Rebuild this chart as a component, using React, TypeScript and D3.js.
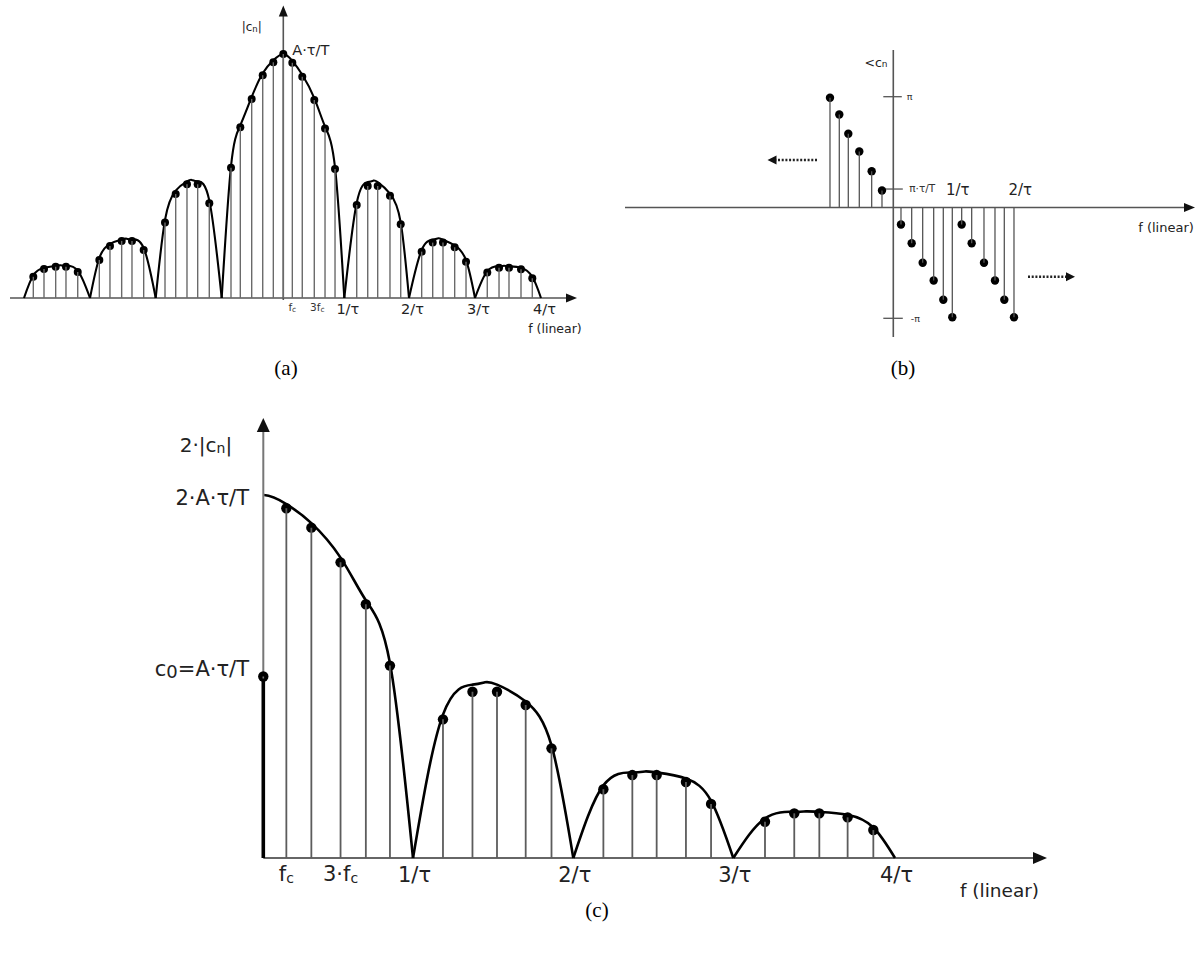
import React from 'react';
import * as d3 from 'd3';

// ---------- (a) two-sided amplitude spectrum |c_n| ----------
// frequency in units of 1/τ, amplitude in units of A·τ/T
const ampFreq = [
  -3.859, -3.697, -3.52, -3.364, -3.186,
  -2.858, -2.696, -2.518, -2.361, -2.183,
  -1.859, -1.697, -1.526, -1.364, -1.188,
  -0.849, -0.698, -0.513, -0.334, -0.162, 0, 0.148, 0.311, 0.508, 0.684, 0.848,
  1.192, 1.362, 1.516, 1.706, 1.872,
  2.192, 2.359, 2.515, 2.692, 2.864,
  3.186, 3.364, 3.515, 3.697, 3.868,
];
const ampValue = [
  0.087, 0.119, 0.128, 0.128, 0.107,
  0.156, 0.213, 0.234, 0.234, 0.197,
  0.309, 0.426, 0.466, 0.466, 0.388,
  0.534, 0.7, 0.816, 0.913, 0.966, 1, 0.964, 0.907, 0.811, 0.695, 0.529,
  0.381, 0.459, 0.459, 0.419, 0.302,
  0.19, 0.227, 0.227, 0.208, 0.149,
  0.104, 0.124, 0.124, 0.118, 0.081,
];
// |sinc| envelope samples, lobe by lobe (zeros at multiples of 1/τ)
const ampEnvFreq = [
  -4, -3.859, -3.697, -3.52, -3.444, -3.364, -3.186,
  -3, -2.858, -2.696, -2.518, -2.441, -2.361, -2.183,
  -2, -1.859, -1.697, -1.526, -1.455, -1.364, -1.188,
  -1, -0.849, -0.698, -0.513, -0.334, -0.162, 0, 0.148, 0.311, 0.508, 0.684, 0.848,
  1, 1.192, 1.362, 1.448, 1.516, 1.706, 1.872,
  2, 2.192, 2.359, 2.444, 2.515, 2.692, 2.864,
  3, 3.186, 3.364, 3.439, 3.515, 3.697, 3.868,
  4,
];
const ampEnvValue = [
  0, 0.093, 0.124, 0.132, 0.134, 0.132, 0.112,
  0, 0.164, 0.222, 0.24, 0.243, 0.24, 0.205,
  0, 0.32, 0.44, 0.478, 0.484, 0.478, 0.4,
  0, 0.54, 0.708, 0.824, 0.921, 0.974, 1, 0.972, 0.915, 0.819, 0.703, 0.535,
  0, 0.39, 0.475, 0.481, 0.475, 0.428, 0.31,
  0, 0.197, 0.239, 0.245, 0.239, 0.216, 0.155,
  0, 0.11, 0.13, 0.132, 0.13, 0.124, 0.087,
  0,
];
const ampTicks = [1, 2, 3, 4];
const ampTickLabels = ['1/τ', '2/τ', '3/τ', '4/τ'];

// ---------- (b) phase spectrum <c_n ----------
// frequency in units of 1/τ, phase in units of π
const phaseFreq = [
  -1.013, -0.864, -0.72, -0.544, -0.346, -0.181,
  0.123, 0.294, 0.47, 0.646, 0.8, 0.944,
  1.094, 1.254, 1.451, 1.627, 1.776, 1.931,
];
const phaseValue = [
  0.99, 0.839, 0.665, 0.505, 0.328, 0.153,
  -0.153, -0.322, -0.499, -0.659, -0.833, -0.99,
  -0.153, -0.322, -0.499, -0.659, -0.833, -0.99,
];
const dutyCycle = 1 / 6; // τ/T
const phaseTicks = [1, 2];
const phaseTickLabels = ['1/τ', '2/τ'];

// ---------- (c) one-sided amplitude spectrum 2·|c_n| ----------
// frequency in units of 1/τ, amplitude in units of A·τ/T
const oneFreq = [
  0.154, 0.321, 0.516, 0.685, 0.846,
  1.187, 1.371, 1.524, 1.703, 1.864,
  2.188, 2.369, 2.521, 2.704, 2.861,
  3.196, 3.377, 3.532, 3.707, 3.866,
];
const oneValue = [
  1.927, 1.82, 1.629, 1.398, 1.06,
  0.764, 0.916, 0.916, 0.843, 0.604,
  0.379, 0.457, 0.457, 0.419, 0.298,
  0.2, 0.246, 0.246, 0.224, 0.154,
];
const oneDc = 1; // c0 = A·τ/T
const oneEnvFreq = [
  0, 0.154, 0.321, 0.516, 0.685, 0.846,
  1, 1.187, 1.371, 1.449, 1.524, 1.703, 1.864,
  2, 2.188, 2.369, 2.448, 2.521, 2.704, 2.861,
  3, 3.196, 3.377, 3.45, 3.532, 3.707, 3.866,
  4,
];
const oneEnvValue = [
  2, 1.95, 1.845, 1.655, 1.42, 1.075,
  0, 0.79, 0.955, 0.968, 0.955, 0.862, 0.62,
  0, 0.4, 0.471, 0.477, 0.471, 0.438, 0.315,
  0, 0.218, 0.254, 0.257, 0.254, 0.238, 0.168,
  0,
];
const oneTicks = [1, 2, 3, 4];
const oneTickLabels = ['1/τ', '2/τ', '3/τ', '4/τ'];

const SANS = "'DejaVu Sans', sans-serif";
const SERIF = "'Liberation Serif', 'DejaVu Serif', serif";

type Pt = [number, number];

// Split an envelope into lobes: each lobe ends at a zero of the envelope.
function splitLobes(freq: number[], value: number[]): Pt[][] {
  const lobes: Pt[][] = [];
  let cur: Pt[] = [];
  freq.forEach((f, i) => {
    const p: Pt = [f, value[i]];
    cur.push(p);
    if (value[i] === 0 && cur.length > 1) {
      lobes.push(cur);
      cur = [p];
    }
  });
  return lobes;
}

function arrowHead(tipX: number, tipY: number, dir: 'right' | 'left' | 'up', len: number, half: number) {
  if (dir === 'right') return `M${tipX},${tipY}L${tipX - len},${tipY - half}L${tipX - len},${tipY + half}Z`;
  if (dir === 'left') return `M${tipX},${tipY}L${tipX + len},${tipY - half}L${tipX + len},${tipY + half}Z`;
  return `M${tipX},${tipY}L${tipX - half},${tipY + len}L${tipX + half},${tipY + len}Z`;
}

function PanelA() {
  const x = d3.scaleLinear().domain([-4, -3, -2, -1, 0, 1, 2, 3, 4])
    .range([24, 90, 155.7, 221.7, 283.3, 344.3, 409, 475, 541]);
  const y = d3.scaleLinear().domain([0, 1]).range([298, 54]);
  const line = d3.line<Pt>().x((d) => x(d[0])).y((d) => y(d[1])).curve(d3.curveNatural);
  const lobes = splitLobes(ampEnvFreq, ampEnvValue).map((l) => line(l) || '');
  const pos = ampFreq.filter((f) => f > 0).sort((a, b) => a - b);
  const y0 = y(0);
  return (
    <g>
      <line x1={10} x2={570} y1={y0} y2={y0} stroke="#555" strokeWidth={1.6} />
      <path d={arrowHead(577, y0, 'right', 11, 4.5)} fill="#111" />
      <line x1={x(0)} x2={x(0)} y1={y0 + 2} y2={14} stroke="#555" strokeWidth={1.6} />
      <path d={arrowHead(x(0), 5.5, 'up', 11, 4.5)} fill="#111" />
      {lobes.map((d, i) => <path key={i} d={d} fill="none" stroke="#000" strokeWidth={2.1} />)}
      {ampFreq.map((f, i) => <circle key={i} cx={x(f)} cy={y(ampValue[i])} r={4} fill="#000" />)}
      {ampFreq.map((f, i) => (
        <line key={i} x1={x(f)} x2={x(f)} y1={y0} y2={y(ampValue[i])} stroke="#6a6a6a" strokeWidth={1.4} />
      ))}
      <text x={251.7} y={27} fontFamily={SANS} fontSize={12} textAnchor="middle" dominantBaseline="central" fill="#222">
        |c<tspan fontSize={8.5} dy={2}>n</tspan><tspan dy={-2}>|</tspan>
      </text>
      <text x={x(0) + 9} y={49.5} fontFamily={SANS} fontSize={14.5} dominantBaseline="central" fill="#222">A·τ/T</text>
      {ampTicks.map((t, i) => (
        <text key={t} x={x(t) + 3.5} y={308.5} fontFamily={SANS} fontSize={14.5} textAnchor="middle" dominantBaseline="central" fill="#222">
          {ampTickLabels[i]}
        </text>
      ))}
      <text x={x(pos[0])} y={307} fontFamily={SANS} fontSize={10.5} textAnchor="middle" dominantBaseline="central" fill="#333">
        f<tspan fontSize={7.5} dy={2}>c</tspan>
      </text>
      <text x={x(pos[2]) + 3} y={307} fontFamily={SANS} fontSize={10.5} textAnchor="middle" dominantBaseline="central" fill="#333">
        3f<tspan fontSize={7.5} dy={2}>c</tspan>
      </text>
      <text x={555} y={328.5} fontFamily={SANS} fontSize={12.5} textAnchor="middle" dominantBaseline="central" fill="#222">f (linear)</text>
    </g>
  );
}

function PanelB() {
  const x = d3.scaleLinear().domain([0, 1]).range([893.3, 955.8]);
  const y = d3.scaleLinear().domain([-1, 1]).range([318.3, 96.7]);
  const y0 = y(0);
  const ax = x(0);
  return (
    <g>
      <line x1={625} x2={1184} y1={y0} y2={y0} stroke="#555" strokeWidth={1.6} />
      <path d={arrowHead(1195, y0, 'right', 11, 4.5)} fill="#111" />
      <line x1={ax} x2={ax} y1={337} y2={50} stroke="#555" strokeWidth={1.6} />
      <line x1={ax - 10} x2={ax + 8.5} y1={y(1)} y2={y(1)} stroke="#555" strokeWidth={1.3} />
      <line x1={ax - 10} x2={ax + 9.5} y1={y(-1)} y2={y(-1)} stroke="#555" strokeWidth={1.3} />
      <line x1={ax - 8} x2={ax + 9.5} y1={y(dutyCycle)} y2={y(dutyCycle)} stroke="#555" strokeWidth={1.3} />
      {phaseFreq.map((f, i) => <circle key={i} cx={x(f)} cy={y(phaseValue[i])} r={4.2} fill="#000" />)}
      {phaseFreq.map((f, i) => (
        <line key={i} x1={x(f)} x2={x(f)} y1={y0} y2={y(phaseValue[i])} stroke="#555" strokeWidth={1.3} />
      ))}
      <text x={876} y={62} fontFamily={SANS} fontSize={12.5} textAnchor="middle" dominantBaseline="central" fill="#222">
        &lt;c<tspan fontSize={9} dy={2}>n</tspan>
      </text>
      <text x={ax + 13.5} y={y(1)} fontFamily={SANS} fontSize={9.5} dominantBaseline="central" fill="#333">π</text>
      <text x={ax + 17.5} y={y(-1)} fontFamily={SANS} fontSize={9.5} dominantBaseline="central" fill="#333">-π</text>
      <text x={ax + 16} y={y(dutyCycle) - 1} fontFamily={SANS} fontSize={10.5} dominantBaseline="central" fill="#333">π·τ/T</text>
      {phaseTicks.map((t, i) => (
        <text key={t} x={x(t) + 2} y={190} fontFamily={SANS} fontSize={15} textAnchor="middle" dominantBaseline="central" fill="#222">
          {phaseTickLabels[i]}
        </text>
      ))}
      <text x={1166} y={227.5} fontFamily={SANS} fontSize={13} textAnchor="middle" dominantBaseline="central" fill="#222">f (linear)</text>
      <line x1={817} x2={776} y1={160} y2={160} stroke="#222" strokeWidth={2.4} strokeDasharray="2 1.7" />
      <path d={arrowHead(767.5, 160, 'left', 9, 4.5)} fill="#111" />
      <line x1={1028} x2={1066} y1={276.7} y2={276.7} stroke="#222" strokeWidth={2.4} strokeDasharray="2 1.7" />
      <path d={arrowHead(1075, 276.7, 'right', 9, 4.5)} fill="#111" />
    </g>
  );
}

function PanelC() {
  const x = d3.scaleLinear().domain([0, 1, 2, 3, 4]).range([263.3, 413, 573.3, 733.3, 895]);
  const y = d3.scaleLinear().domain([0, 2]).range([858, 495]);
  const line = d3.line<Pt>().x((d) => x(d[0])).y((d) => y(d[1])).curve(d3.curveNatural);
  const y0 = y(0);
  const ax = x(0);

  const [main, ...side] = splitLobes(oneEnvFreq, oneEnvValue);
  // main lobe is mirrored about f = 0 so it leaves the axis flat; the mirror half is clipped away
  const mirrored: Pt[] = [...main.slice(1).reverse().map((p) => [-p[0], p[1]] as Pt), ...main];
  const mainPath = line(mirrored) || '';
  const sidePaths = side.map((l) => line(l) || '');
  const fs = 21;
  return (
    <g>
      <defs>
        <clipPath id="rightOfAxis">
          <rect x={ax + 1} y={400} width={800} height={470} />
        </clipPath>
      </defs>
      <line x1={ax} x2={1034} y1={y0} y2={y0} stroke="#666" strokeWidth={2.2} />
      <path d={arrowHead(1047, y0, 'right', 14, 6)} fill="#111" />
      <line x1={ax} x2={ax} y1={y0} y2={428} stroke="#777" strokeWidth={2} />
      <path d={arrowHead(ax, 418, 'up', 14, 6.5)} fill="#111" />
      <path d={mainPath} fill="none" stroke="#000" strokeWidth={2.6} clipPath="url(#rightOfAxis)" />
      {sidePaths.map((d, i) => <path key={i} d={d} fill="none" stroke="#000" strokeWidth={2.6} />)}
      {oneFreq.map((f, i) => <circle key={i} cx={x(f)} cy={y(oneValue[i])} r={5.2} fill="#000" />)}
      {oneFreq.map((f, i) => (
        <line key={i} x1={x(f)} x2={x(f)} y1={y0} y2={y(oneValue[i])} stroke="#5c5c5c" strokeWidth={1.8} />
      ))}
      <circle cx={ax} cy={y(oneDc)} r={5.2} fill="#000" />
      <line x1={ax} x2={ax} y1={y0} y2={y(oneDc)} stroke="#000" strokeWidth={3.6} />
      <line x1={ax} x2={ax} y1={y(oneDc) + 2} y2={y(oneDc)} stroke="#777" strokeWidth={1.6} />

      <text x={206} y={445} fontFamily={SANS} fontSize={20} textAnchor="middle" dominantBaseline="central" fill="#222">
        2·|c<tspan fontSize={14} dy={3}>n</tspan><tspan dy={-3}>|</tspan>
      </text>
      <text x={249} y={y(2) + 3} fontFamily={SANS} fontSize={fs} textAnchor="end" dominantBaseline="central" fill="#222">2·A·τ/T</text>
      <text x={249} y={y(oneDc) - 8} fontFamily={SANS} fontSize={fs} textAnchor="end" dominantBaseline="central" fill="#222">
        c<tspan fontSize={18} dy={2}>0</tspan><tspan dy={-2}>=A·τ/T</tspan>
      </text>
      <text x={x(oneFreq[0])} y={874} fontFamily={SANS} fontSize={fs} textAnchor="middle" dominantBaseline="central" fill="#222">
        f<tspan fontSize={14} dy={4}>c</tspan>
      </text>
      <text x={x(oneFreq[2])} y={874} fontFamily={SANS} fontSize={fs} textAnchor="middle" dominantBaseline="central" fill="#222">
        3·f<tspan fontSize={14} dy={4}>c</tspan>
      </text>
      {oneTicks.map((t, i) => (
        <text key={t} x={x(t) + 1.5} y={875} fontFamily={SANS} fontSize={fs} textAnchor="middle" dominantBaseline="central" fill="#222">
          {oneTickLabels[i]}
        </text>
      ))}
      <text x={999.5} y={890} fontFamily={SANS} fontSize={18.5} textAnchor="middle" dominantBaseline="central" fill="#222">f (linear)</text>
    </g>
  );
}

export default function App() {
  return (
    <svg width={1196} height={953} viewBox="0 0 1196 953"
      style={{ position: 'absolute', left: 0, top: 0, background: '#fff' }}>
      <rect x={0} y={0} width={1196} height={953} fill="#fff" />
      <PanelA />
      <PanelB />
      <PanelC />
      <text x={286} y={368} fontFamily={SERIF} fontSize={21} textAnchor="middle" dominantBaseline="central" fill="#000">(a)</text>
      <text x={903} y={368} fontFamily={SERIF} fontSize={21} textAnchor="middle" dominantBaseline="central" fill="#000">(b)</text>
      <text x={597} y={910} fontFamily={SERIF} fontSize={21} textAnchor="middle" dominantBaseline="central" fill="#000">(c)</text>
    </svg>
  );
}
